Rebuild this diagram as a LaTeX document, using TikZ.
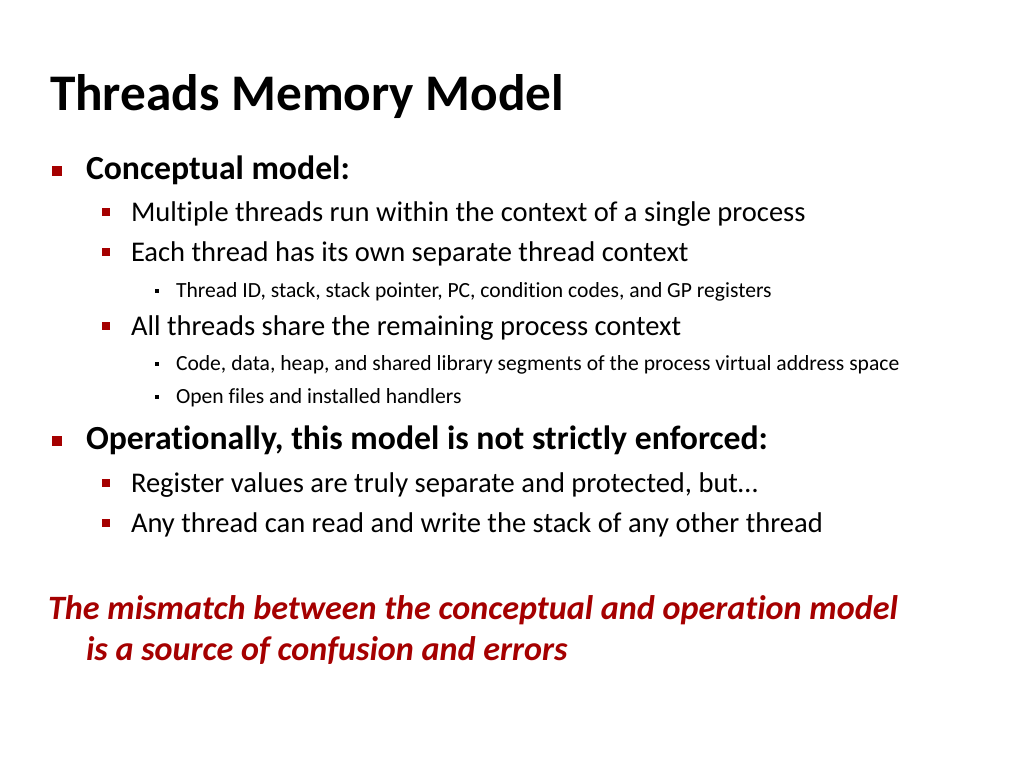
\documentclass[tikz,border=0pt]{standalone}
\usepackage{fontspec}
\setmainfont{Carlito}[Ligatures=NoCommon]
\definecolor{cmured}{RGB}{165,0,0}
\begin{document}
\begin{tikzpicture}[x=0.75pt,y=-0.75pt,
  every node/.style={inner sep=0pt,outer sep=0pt,anchor=base west},
  ttl/.style={font=\fontsize{38.5}{44}\selectfont\bfseries},
  lone/.style={font=\fontsize{25.3}{30}\selectfont\bfseries},
  ltwo/.style={font=\fontsize{21.4}{26}\selectfont},
  lthree/.style={font=\fontsize{16.2}{19}\selectfont},
  redt/.style={font=\fontsize{25.6}{30}\selectfont\bfseries\itshape,text=cmured},
  bone/.style={fill=cmured,minimum size=7.5pt,anchor=center},
  btwo/.style={fill=cmured,minimum size=6pt,anchor=center},
  bthree/.style={fill=black,minimum size=3.2pt,anchor=center}]
\useasboundingbox (0,0) rectangle (1024,768);
\node[ttl] (t) at (50,110) {Threads Memory Model};
\node[bone] (b1) at (57,171) {};
\node[lone] (l1) at (86,179) {Conceptual model:};
\node[btwo] (b2) at (106,212) {};
\node[ltwo] (l2) at (131,221) {Multiple threads run within the context of a single process};
\node[btwo] (b3) at (106,252) {};
\node[ltwo] (l3) at (131,261) {Each thread has its own separate thread context};
\node[bthree] (b4) at (157,291) {};
\node[lthree] (l4) at (176,297) {Thread ID, stack, stack pointer, PC, condition codes, and GP registers};
\node[btwo] (b5) at (106,326) {};
\node[ltwo] (l5) at (131,335) {All threads share the remaining process context};
\node[bthree] (b6) at (157,364) {};
\node[lthree] (l6) at (176,370) {Code, data, heap, and shared library segments of the process virtual address space};
\node[bthree] (b7) at (157,397) {};
\node[lthree] (l7) at (176,403) {Open files and installed handlers};
\node[bone] (b8) at (57,441) {};
\node[lone] (l8) at (86,449) {Operationally, this model is not strictly enforced:};
\node[btwo] (b9) at (106,483) {};
\node[ltwo] (l9) at (131,492) {Register values are truly separate and protected, but…};
\node[btwo] (b10) at (106,523) {};
\node[ltwo] (l10) at (131,532) {Any thread can read and write the stack of any other thread};
\node[redt] (r1) at (48,619) {The mismatch between the conceptual and operation model};
\node[redt] (r2) at (86,660) {is a source of confusion and errors};
\end{tikzpicture}
\end{document}
